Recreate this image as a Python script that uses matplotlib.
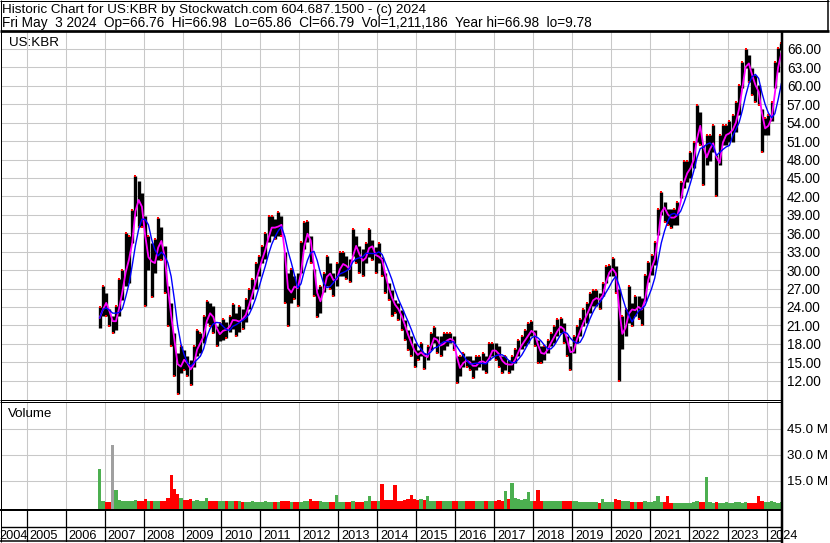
import numpy as np
import pandas as pd
import matplotlib
matplotlib.use('Agg')
import matplotlib.pyplot as plt
from matplotlib.lines import Line2D

plt.rcParams['font.family'] = ['Liberation Sans', 'DejaVu Sans']

W, H = 830, 543

# monthly high / low, Nov 2006 .. May 2024
high = [
    24.0, 27.4,                                                              # 2006
    26.3, 23.6, 22.5, 24.1, 28.5, 30.0, 36.0, 35.5, 39.8, 45.3, 44.5, 42.6,  # 2007
    38.8, 35.5, 34.4, 35.0, 38.5, 37.1, 33.9, 27.4, 24.7, 19.8, 16.5, 17.6,  # 2008
    17.0, 16.0, 15.4, 17.6, 20.3, 19.8, 22.5, 24.9, 24.7, 24.1, 20.9, 21.4,  # 2009
    22.0, 21.5, 22.6, 24.5, 23.1, 24.2, 23.6, 25.3, 26.9, 28.5, 31.2, 32.3,  # 2010
    34.0, 36.1, 38.8, 38.8, 38.3, 39.5, 38.8, 33.0, 29.6, 30.2, 29.1, 29.6,  # 2011
    34.5, 37.8, 38.0, 35.6, 30.2, 26.9, 27.4, 29.6, 32.3, 31.2, 29.6, 31.2,  # 2012
    32.9, 32.9, 32.3, 31.8, 36.7, 35.6, 34.0, 33.4, 34.4, 36.7, 34.9, 33.8,  # 2013
    34.4, 32.2, 29.5, 27.9, 26.8, 25.2, 24.6, 23.5, 21.9, 20.3, 19.2, 18.1,  # 2014
    17.0, 18.1, 16.5, 17.6, 19.8, 20.8, 19.2, 19.2, 19.8, 19.8, 19.8, 19.2,  # 2015
    16.0, 16.0, 16.5, 16.0, 16.0, 15.4, 16.0, 16.0, 16.5, 16.0, 18.1, 18.1,  # 2016
    18.1, 17.6, 16.0, 16.0, 15.4, 16.0, 17.1, 18.7, 19.2, 20.3, 21.4, 21.7,  # 2017
    20.3, 18.7, 17.6, 17.6, 18.7, 19.8, 20.9, 22.0, 22.2, 21.4, 19.2, 17.6,  # 2018
    19.2, 20.9, 22.0, 23.6, 24.7, 26.3, 26.8, 26.8, 26.3, 27.9, 30.6, 30.9,  # 2019
    32.0, 30.6, 27.0, 22.5, 23.6, 27.4, 24.7, 25.8, 25.8, 25.4, 29.2, 31.4,  # 2020
    32.5, 34.6, 40.0, 42.8, 41.1, 40.0, 40.0, 40.0, 41.1, 44.4, 47.7, 47.7,  # 2021
    49.3, 50.9, 56.9, 55.8, 50.4, 52.0, 52.0, 53.6, 48.7, 52.0, 53.6, 53.6,  # 2022
    54.2, 55.3, 57.4, 60.1, 63.9, 66.0, 65.0, 62.9, 61.8, 60.1, 56.3, 54.7,  # 2023
    55.3, 57.4, 63.9, 66.1, 66.98,                                           # 2024
]
low = [
    20.5, 22.5,
    22.5, 20.9, 19.8, 20.3, 22.5, 25.2, 27.4, 27.9, 34.4, 38.8, 37.1, 37.1,
    24.1, 30.1, 25.7, 29.5, 31.7, 31.7, 26.3, 20.9, 17.6, 12.7, 9.8, 13.3,
    13.8, 12.7, 11.3, 14.3, 16.0, 16.5, 18.1, 21.4, 20.9, 19.8, 17.6, 18.4,
    18.7, 19.0, 20.0, 20.4, 19.3, 19.9, 20.4, 21.5, 23.6, 25.3, 26.9, 29.1,
    31.2, 31.8, 34.5, 35.6, 35.0, 35.6, 35.6, 24.7, 20.9, 24.7, 25.3, 24.2,
    29.6, 33.4, 34.5, 31.2, 25.8, 22.3, 23.1, 26.4, 27.4, 26.9, 25.8, 27.4,
    29.1, 29.1, 28.5, 28.0, 32.3, 31.2, 29.6, 29.1, 31.1, 32.2, 31.7, 29.5,
    31.1, 29.0, 26.3, 25.2, 22.5, 23.0, 21.9, 20.3, 18.7, 17.0, 16.0, 14.3,
    15.4, 16.0, 13.9, 15.4, 17.0, 18.1, 16.5, 16.0, 17.0, 17.6, 18.1, 17.0,
    11.6, 12.7, 14.3, 14.3, 13.8, 12.5, 13.8, 14.3, 13.8, 13.2, 15.4, 16.0,
    15.4, 14.3, 13.2, 13.8, 13.3, 13.8, 14.9, 16.0, 17.1, 17.6, 18.2, 19.2,
    17.6, 14.9, 14.9, 15.4, 16.5, 17.6, 18.2, 19.2, 19.8, 18.2, 16.0, 13.8,
    16.5, 18.2, 19.2, 20.9, 21.4, 23.1, 24.1, 24.1, 23.6, 25.8, 27.9, 29.0,
    29.0, 26.3, 11.9, 17.1, 19.2, 21.4, 20.9, 22.5, 22.0, 21.1, 24.9, 28.1,
    29.2, 30.8, 35.7, 39.0, 37.9, 37.4, 36.8, 37.4, 37.4, 41.7, 43.3, 44.4,
    45.0, 46.6, 50.9, 50.4, 43.9, 47.1, 47.7, 49.3, 42.0, 47.1, 50.4, 50.4,
    50.9, 50.9, 52.5, 55.3, 59.6, 62.9, 60.7, 58.5, 57.4, 56.9, 49.3, 52.0,
    52.0, 54.2, 59.6, 62.3, 65.86,
]
# volume bar heights in millions
volume = [
    21.5, 3.5,
    2.5, 2.5, 35.8, 9.4, 4.0, 3.0, 3.5, 3.5, 3.0, 4.0, 3.0, 3.0,
    4.5, 3.0, 3.5, 3.0, 3.0, 3.0, 3.5, 5.0, 18.0, 10.0, 7.5, 5.0,
    4.0, 4.0, 4.5, 3.5, 4.0, 3.5, 3.0, 4.8, 3.0, 3.5, 3.0, 3.0,
    3.0, 3.0, 3.0, 3.0, 3.5, 3.0, 2.5, 2.5, 2.5, 3.0, 2.5, 2.5,
    2.5, 3.0, 2.5, 2.5, 2.5, 2.5, 3.0, 3.5, 3.0, 2.5, 2.5, 2.5,
    2.5, 3.0, 3.0, 4.5, 3.5, 3.0, 3.0, 2.5, 2.5, 2.5, 2.5, 6.5,
    2.5, 2.5, 2.5, 2.5, 3.0, 2.5, 2.5, 2.5, 3.0, 6.3, 3.0, 3.0,
    3.5, 12.9, 4.0, 4.0, 4.0, 12.3, 3.5, 3.5, 4.0, 4.5, 6.6, 4.5,
    4.0, 4.5, 4.0, 6.4, 3.5, 3.0, 3.0, 3.5, 3.0, 3.0, 3.0, 3.0,
    3.5, 3.5, 3.0, 3.0, 3.5, 3.5, 3.0, 3.0, 3.0, 3.0, 3.5, 3.0,
    3.5, 4.0, 3.5, 9.3, 4.5, 13.6, 5.0, 4.5, 4.0, 4.5, 8.7, 3.5,
    3.5, 9.8, 3.5, 3.5, 3.0, 3.0, 3.0, 3.0, 3.0, 3.5, 3.5, 3.5,
    3.0, 3.0, 2.5, 2.5, 2.5, 2.5, 2.5, 2.5, 2.0, 4.2, 2.5, 2.5,
    2.5, 4.6, 4.0, 3.0, 3.0, 3.0, 2.5, 2.5, 2.5, 2.5, 3.0, 2.5,
    2.5, 3.0, 5.9, 2.5, 2.5, 6.4, 2.0, 2.0, 2.0, 2.0, 2.0, 2.0,
    2.0, 2.5, 3.5, 2.5, 2.5, 16.9, 2.5, 2.0, 2.5, 2.0, 2.0, 2.5,
    2.0, 2.0, 2.5, 2.5, 2.0, 2.5, 2.0, 2.0, 2.0, 6.3, 3.0, 2.5,
    2.5, 3.0, 2.5, 2.0, 2.5,
]
unchanged_months = ['2007-03']
years = list(range(2004, 2025))
price_ticks = list(range(12, 67, 3))
volume_ticks = [15, 30, 45]

header1 = 'Historic Chart for US:KBR by Stockwatch.com 604.687.1500 - (c) 2024'
header2 = ('Fri May  3 2024  Op=66.76  Hi=66.98  Lo=65.86  Cl=66.79  '
           'Vol=1,211,186  Year hi=66.98  lo=9.78')

months = pd.period_range('2006-11', periods=len(high), freq='M')
t = (months.year + (months.month - 0.5) / 12).to_numpy()
hi = np.array(high)
lo = np.array(low)
mid = pd.Series((hi + lo) / 2)
ma_fast = mid.rolling(2, min_periods=1).mean()
ma_slow = mid.rolling(5, min_periods=1).mean()
up = np.r_[True, np.diff(mid.to_numpy()) >= 0]

vcolors = np.where(up, '#4caf50', '#ff0000').astype(object)
for m in unchanged_months:
    vcolors[months.get_loc(pd.Period(m, 'M'))] = '#a0a0a0'

PX_YEAR = 38.95
X0 = 2005 - 25.7 / PX_YEAR
X1 = 2005 + 755.3 / PX_YEAR

fig = plt.figure(figsize=(W / 100, H / 100), dpi=100)


def px_axes(x0, y0, x1, y1):
    ax = fig.add_axes([x0 / W, 1 - y1 / H, (x1 - x0) / W, (y1 - y0) / H])
    for s in ax.spines.values():
        s.set_visible(False)
    ax.set_xlim(X0, X1)
    return ax


def px_line(x0, y0, x1, y1, lw):
    fig.add_artist(Line2D([x0 / W, x1 / W], [1 - y0 / H, 1 - y1 / H],
                          transform=fig.transFigure, color='black',
                          lw=lw * 0.72, solid_capstyle='butt'))


grid_kw = dict(color='#c8c8c8', lw=0.75)

# price panel
ax = px_axes(1, 31, 782, 400)
ax.set_ylim(8.86, 68.93)
ax.set_xticks(years[1:])
ax.set_yticks(price_ticks)
ax.set_yticklabels([f'{v:.2f}' for v in price_ticks])
ax.yaxis.tick_right()
ax.tick_params(axis='y', length=0, pad=3.5, labelsize=9.8, labelcolor='black')
ax.tick_params(axis='x', length=0, labelbottom=False)
ax.grid(True, **grid_kw)
ax.set_axisbelow(True)
ax.vlines(t, lo, hi, color='black', lw=2.4)
ax.plot(t[up], hi[up], 's', color='red', ms=1.6, mew=0)
ax.plot(t[~up], lo[~up], 's', color='red', ms=1.6, mew=0)
ax.plot(t, ma_fast, color='#ff00ff', lw=1.3)
ax.plot(t, ma_slow, color='#0000ff', lw=1.0)
ax.text(0.0105, 0.96, 'US:KBR', transform=ax.transAxes, fontsize=9.6, va='baseline')

# volume panel
axv = px_axes(1, 402, 782, 509)
axv.set_ylim(-1.33, 60.4)
axv.set_xticks(years[1:])
axv.set_yticks(volume_ticks)
axv.set_yticklabels([f'{v:.1f} M' for v in volume_ticks])
axv.yaxis.tick_right()
axv.tick_params(axis='y', length=0, pad=3.5, labelsize=9.6)
axv.tick_params(axis='x', length=0, labelbottom=False)
axv.grid(True, **grid_kw)
axv.set_axisbelow(True)
axv.bar(t, np.array(volume) + 1.33, bottom=-1.33, width=1 / 12,
        color=list(vcolors), lw=0)
axv.text(0.0095, 0.86, 'Volume', transform=axv.transAxes, fontsize=9.6, va='baseline')

# date strip
axd = px_axes(1, 509, 782, 542)
axd.set_ylim(0, 1)
axd.set_xticks([])
axd.set_yticks([])
axd.vlines(years[1:], 0, 1, color='black', lw=0.9)
axd.axhline(15 / 33, color='black', lw=1.0)
for y in years:
    xs = max(y + 3 / PX_YEAR, X0 - 2 / PX_YEAR)
    axd.text(xs, 3 / 33, str(y), fontsize=9.2, va='baseline', ha='left', clip_on=False)

# header
fig.text(2 / W, 1 - 12.7 / H, header1, fontsize=9.7, va='baseline')
fig.text(2 / W, 1 - 27.3 / H, header2, fontsize=9.8, va='baseline')

# frame lines
px_line(0, 0.5, 829, 0.5, 1)
px_line(0.5, 0, 0.5, 542, 1)
px_line(828, 0, 828, 31, 1.5)
px_line(0, 30.7, 829, 30.7, 2.7)
px_line(0, 400.3, 782, 400.3, 1)
px_line(0, 402.0, 782, 402.0, 1)
px_line(0, 509.8, 782, 509.8, 2)
px_line(0, 541.3, 782, 541.3, 1.5)
px_line(782.3, 31, 782.3, 543, 2.5)

fig.savefig('out.png', dpi=100, facecolor='white')
